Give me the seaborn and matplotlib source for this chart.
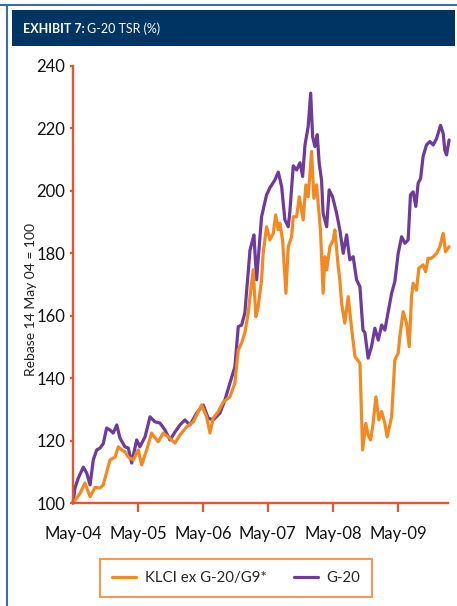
import matplotlib
matplotlib.use("Agg")
import matplotlib.pyplot as plt
import matplotlib.dates as mdates
import pandas as pd
import seaborn as sns
from matplotlib.patches import Rectangle
from matplotlib.lines import Line2D

# ==== data (rebased, 14 May 04 = 100) ====
g20_dates = [
    "2004-05-14", "2004-05-25", "2004-06-13", "2004-07-11", "2004-07-30", "2004-08-18",
    "2004-09-05", "2004-09-24", "2004-10-13", "2004-10-31", "2004-11-19", "2004-12-08",
    "2004-12-26", "2005-01-15", "2005-02-02", "2005-03-02", "2005-03-21", "2005-04-09",
    "2005-05-07", "2005-05-25", "2005-06-23", "2005-07-21", "2005-08-18", "2005-09-15",
    "2005-10-13", "2005-11-10", "2005-12-08", "2006-01-05", "2006-02-02", "2006-03-02",
    "2006-04-09", "2006-05-16", "2006-06-13", "2006-07-11", "2006-08-18", "2006-09-15",
    "2006-10-13", "2006-11-10", "2006-11-29", "2006-12-18", "2007-01-05", "2007-02-03",
    "2007-02-18", "2007-02-25", "2007-03-12", "2007-04-09", "2007-05-07", "2007-05-26",
    "2007-06-23", "2007-07-12", "2007-07-31", "2007-08-18", "2007-09-06", "2007-09-15",
    "2007-10-04", "2007-10-23", "2007-11-11", "2007-11-26", "2007-12-09", "2007-12-27",
    "2008-01-10", "2008-01-21", "2008-02-03", "2008-02-16", "2008-02-27", "2008-03-11",
    "2008-03-20", "2008-04-09", "2008-04-23", "2008-05-12", "2008-06-04", "2008-06-22",
    "2008-07-11", "2008-07-30", "2008-08-17", "2008-09-05", "2008-09-24", "2008-10-13",
    "2008-10-22", "2008-10-30", "2008-11-10", "2008-11-28", "2008-12-17", "2009-01-05",
    "2009-01-24", "2009-02-12", "2009-03-02", "2009-03-21", "2009-04-09", "2009-04-27",
    "2009-05-16", "2009-06-04", "2009-06-23", "2009-07-11", "2009-07-24", "2009-08-08",
    "2009-08-23", "2009-09-05", "2009-09-19", "2009-10-03", "2009-10-22", "2009-11-10",
    "2009-11-29", "2009-12-18", "2010-01-09", "2010-01-24", "2010-02-02", "2010-02-12",
    "2010-02-26",
]
g20_values = [
    100, 104.8, 108, 111.5, 109.6, 105.8,
    113.8, 117, 117.6, 119, 124, 123.4,
    122.4, 125, 120.8, 118, 117.6, 112.8,
    120.2, 118, 121.2, 127.6, 126, 125.6,
    123.4, 120.2, 122.7, 125, 126.6, 125,
    128.8, 131.4, 127.2, 126.6, 128.8, 133,
    138.4, 143.6, 156.5, 157, 160.9, 181,
    184.3, 185.9, 171.5, 191.7, 198.7, 201,
    203.5, 206, 201.3, 190.7, 188.5, 193.3,
    208, 206.7, 209, 204.6, 214.7, 220.6,
    231.3, 217.4, 214.2, 218, 208.8, 203.5,
    192.8, 188.5, 200.3, 198.1, 192.8, 187.5,
    180, 185.9, 177.9, 178.9, 171.5, 169.3,
    161.8, 155.4, 154.5, 146.4, 150.1, 156,
    152.2, 157, 155.4, 161.3, 167.2, 170.9,
    180, 185.3, 183.2, 184.3, 198.7, 199.7,
    195, 202.4, 204, 211, 214.7, 215.8,
    214.7, 216.8, 221, 218.4, 213, 211.5,
    216.3,
]

klci_dates = [
    "2004-05-14", "2004-06-22", "2004-07-20", "2004-08-18", "2004-09-15", "2004-10-13",
    "2004-10-31", "2004-12-08", "2005-01-05", "2005-01-24", "2005-02-12", "2005-03-02",
    "2005-03-21", "2005-04-18", "2005-05-16", "2005-06-04", "2005-07-02", "2005-07-30",
    "2005-09-05", "2005-10-03", "2005-10-31", "2005-12-08", "2006-01-05", "2006-02-12",
    "2006-03-21", "2006-05-07", "2006-06-04", "2006-06-23", "2006-07-11", "2006-08-08",
    "2006-09-06", "2006-10-13", "2006-11-10", "2006-11-29", "2006-12-18", "2007-01-05",
    "2007-01-24", "2007-02-03", "2007-02-21", "2007-03-08", "2007-03-21", "2007-04-09",
    "2007-04-18", "2007-05-07", "2007-05-26", "2007-06-14", "2007-06-27", "2007-07-12",
    "2007-07-21", "2007-08-05", "2007-08-24", "2007-09-06", "2007-09-25", "2007-10-04",
    "2007-10-23", "2007-11-07", "2007-11-29", "2007-12-14", "2007-12-27", "2008-01-15",
    "2008-01-28", "2008-02-12", "2008-02-21", "2008-03-05", "2008-03-20", "2008-03-30",
    "2008-04-09", "2008-04-27", "2008-05-16", "2008-05-25", "2008-06-13", "2008-06-22",
    "2008-07-02", "2008-07-20", "2008-08-08", "2008-08-27", "2008-09-15", "2008-10-13",
    "2008-10-28", "2008-11-15", "2008-11-28", "2008-12-12", "2008-12-26", "2009-01-11",
    "2009-01-27", "2009-02-12", "2009-03-02", "2009-03-15", "2009-04-09", "2009-04-27",
    "2009-05-16", "2009-05-25", "2009-06-13", "2009-07-02", "2009-07-17", "2009-07-30",
    "2009-08-08", "2009-08-27", "2009-09-09", "2009-10-03", "2009-10-17", "2009-10-31",
    "2009-11-19", "2009-11-29", "2009-12-18", "2010-01-05", "2010-01-24", "2010-02-06",
    "2010-02-26",
]
klci_values = [
    100, 103, 106.4, 102, 105, 104.8,
    105.8, 113.8, 114.7, 118, 117, 116.4,
    114.7, 113.8, 117, 112.2, 117, 122.4,
    119.6, 122.4, 121.2, 119.2, 121.8, 124.4,
    126, 131.4, 127.6, 122.4, 127.2, 129.2,
    132.4, 134, 138.4, 149, 151.3, 154.5,
    160.9, 166, 174.7, 159.7, 162.9, 171.5,
    180, 188.5, 184.3, 186.4, 192.3, 187.5,
    189.6, 184.3, 167.2, 182.1, 185.3, 191.7,
    191.7, 198.1, 190.7, 201.9, 198.1, 212.6,
    197.6, 201.9, 196, 187.5, 167.2, 178.9,
    174.7, 182.1, 184.3, 187.5, 175.7, 171.5,
    164, 157.6, 166.1, 156, 146.9, 144.8,
    117, 125.5, 121.8, 120.2, 125.5, 134,
    126.6, 129.3, 125.5, 121.2, 127.6, 145.8,
    148, 153.3, 161.3, 157.6, 150.1, 166.1,
    170.4, 168.2, 175.2, 176.3, 174.1, 178.4,
    178.4, 178.9, 180, 182.1, 186.4, 180.5,
    182.1,
]

x_ticks = ["2004-05-14", "2005-05-14", "2006-05-14", "2007-05-14", "2008-05-14", "2009-05-14"]
y_ticks = [100, 120, 140, 160, 180, 200, 220, 240]

klci = pd.DataFrame({"date": pd.to_datetime(klci_dates), "value": klci_values})
g20 = pd.DataFrame({"date": pd.to_datetime(g20_dates), "value": g20_values})

ORANGE = "#F28A21"
PURPLE = "#6E3B9A"
SPINE = "#E4572E"
NAVY = "#003463"

sns.set_style("white")
plt.rcParams["font.family"] = ["Lato", "DejaVu Sans"]

fig = plt.figure(figsize=(4.57, 6.06), dpi=100)
ax = fig.add_axes([73 / 457, 103 / 606, 375 / 457, 437 / 606])

sns.lineplot(data=g20, x="date", y="value", color=PURPLE, linewidth=2.3, ax=ax)
sns.lineplot(data=klci, x="date", y="value", color=ORANGE, linewidth=2.3, ax=ax)
for ln in ax.lines:
    ln.set_clip_on(False)

ax.set_ylim(100, 240)
ax.set_yticks(y_ticks)
ax.set_xlim(pd.Timestamp("2004-05-14"), pd.Timestamp("2010-02-20"))
ax.set_xticks(pd.to_datetime(x_ticks))
ax.xaxis.set_major_formatter(mdates.DateFormatter("%b-%y"))
ax.set_xlabel("")
ax.set_ylabel("")

for side in ["top", "right"]:
    ax.spines[side].set_visible(False)
for side in ["left", "bottom"]:
    ax.spines[side].set_color(SPINE)
    ax.spines[side].set_linewidth(1.7)
    ax.spines[side].set_zorder(5)

ax.tick_params(axis="y", direction="out", length=2.5, width=1.6, color=SPINE,
               labelsize=12, labelcolor="#111111", pad=3, left=True)
ax.tick_params(axis="x", direction="out", length=6.5, width=1.6, color=SPINE,
               labelsize=12, labelcolor="#111111", pad=10, bottom=True)
ax.xaxis.get_major_ticks()[0].tick1line.set_visible(False)

fig.text(31 / 457, 1 - 300 / 606, "Rebase 14 May 04 = 100", rotation=90,
         ha="center", va="center", fontsize=10, color="#222222")

# header band and frame
fig.patches.append(Rectangle((12 / 457, 1 - 46 / 606), 443 / 457, 36 / 606,
                             transform=fig.transFigure, facecolor=NAVY, edgecolor="none"))
fig.lines.append(Line2D([0, 1], [1 - 5 / 606, 1 - 5 / 606], transform=fig.transFigure,
                        color="#3B6EA5", linewidth=1.5))
fig.lines.append(Line2D([7 / 457, 7 / 457], [0, 1 - 5 / 606], transform=fig.transFigure,
                        color="#3B6EA5", linewidth=1.5))

t1 = fig.text(23 / 457, 1 - 29 / 606, "EXHIBIT 7:", color="white", fontsize=9,
              fontweight="bold", ha="left", va="center")
fig.canvas.draw()
bb = t1.get_window_extent(fig.canvas.get_renderer())
fig.text(bb.x1 / fig.bbox.width + 2 / 457, 1 - 29 / 606, "G-20 TSR (%)", color="white",
         fontsize=9, ha="left", va="center")

handles = [Line2D([], [], color=ORANGE, linewidth=2.3), Line2D([], [], color=PURPLE, linewidth=2.3)]
leg = fig.legend(handles, ["KLCI ex G-20/G9*", "G-20"], loc="center",
                 bbox_to_anchor=(236 / 457, 1 - 578 / 606), ncol=2, frameon=True,
                 fancybox=False, fontsize=10.8, handlelength=1.6, columnspacing=1.8,
                 borderpad=0.8, handletextpad=0.6)
leg.get_frame().set_edgecolor("#F07F2A")
leg.get_frame().set_linewidth(1.5)

fig.savefig("out.png", dpi=100)
